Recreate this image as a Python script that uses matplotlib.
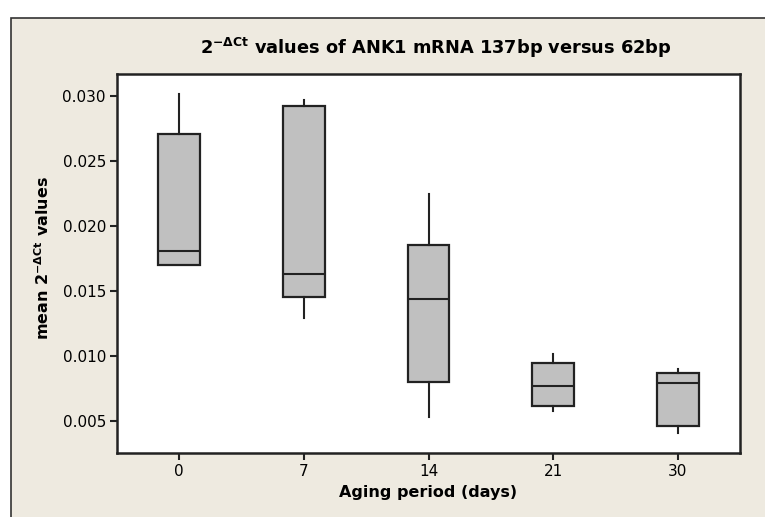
import numpy as np
import matplotlib
matplotlib.use("Agg")
import matplotlib.pyplot as plt
from matplotlib.patches import Rectangle

# box statistics (mean 2^-dCt values)
days = ["0", "7", "14", "21", "30"]
whis_lo = [0.01702, 0.01290, 0.00530, 0.00576, 0.00407]
q1 = [0.01702, 0.01456, 0.00803, 0.00619, 0.00463]
med = [0.01807, 0.01628, 0.01439, 0.00773, 0.00791]
q3 = [0.02704, 0.02919, 0.01853, 0.00944, 0.00873]
whis_hi = [0.03013, 0.02969, 0.02245, 0.01016, 0.00901]

plt.rcParams['font.family'] = ['DejaVu Sans']
plt.rcParams['mathtext.fontset'] = 'custom'
plt.rcParams['mathtext.bf'] = 'DejaVu Sans:bold'
plt.rcParams['mathtext.rm'] = 'DejaVu Sans:bold'

bg = '#EEEAE0'
dark = '#222222'

fig = plt.figure(figsize=(7.65, 5.17), dpi=100)
fig.patch.set_facecolor('white')
fig.patches.append(Rectangle((10.5 / 765, -0.01), 1.0, 0.9849 - 0.01,
                             transform=fig.transFigure, facecolor=bg,
                             edgecolor='#333333', linewidth=1.2, zorder=-5))

ax = fig.add_axes([117 / 765, 1 - 453 / 517, 623 / 765, 379 / 517])
ax.set_zorder(2)
ax.set_facecolor('white')

stats = []
for i in range(len(days)):
    stats.append({'whislo': whis_lo[i], 'q1': q1[i], 'med': med[i],
                  'q3': q3[i], 'whishi': whis_hi[i], 'fliers': []})

ax.bxp(stats, positions=np.arange(1, len(days) + 1), widths=0.335,
       patch_artist=True, showcaps=False, showfliers=False,
       boxprops=dict(facecolor='#C0C0C0', edgecolor=dark, linewidth=1.6),
       whiskerprops=dict(color=dark, linewidth=1.5),
       medianprops=dict(color=dark, linewidth=1.5))

ax.set_xlim(0.5, 5.5)
ax.set_ylim(0.00256, 0.03167)
ax.set_xticks(np.arange(1, len(days) + 1))
ax.set_xticklabels(days)
ax.set_yticks([0.005, 0.010, 0.015, 0.020, 0.025, 0.030])
ax.set_yticklabels(['0.005', '0.010', '0.015', '0.020', '0.025', '0.030'])
ax.tick_params(axis='both', direction='out', length=5, width=1.5,
               color=dark, labelsize=11, pad=3)
ax.tick_params(top=False, right=False)
for s in ax.spines.values():
    s.set_linewidth(1.8)
    s.set_color(dark)

ax.set_xlabel('Aging period (days)', fontsize=11.5, fontweight='bold', labelpad=4)
fig.text(43 / 765, 1 - 258 / 517, r'mean $\mathbf{2^{-\Delta Ct}}$ values', rotation=90,
         ha='center', va='center', fontsize=11.5, fontweight='bold')

fig.text(436 / 765, 1 - 48 / 517,
         r'$\mathbf{2^{-\Delta Ct}}$ values of ANK1 mRNA 137bp versus 62bp',
         ha='center', va='center', fontsize=12.8, fontweight='bold')

fig.savefig('out.png', dpi=100, facecolor=fig.get_facecolor())
